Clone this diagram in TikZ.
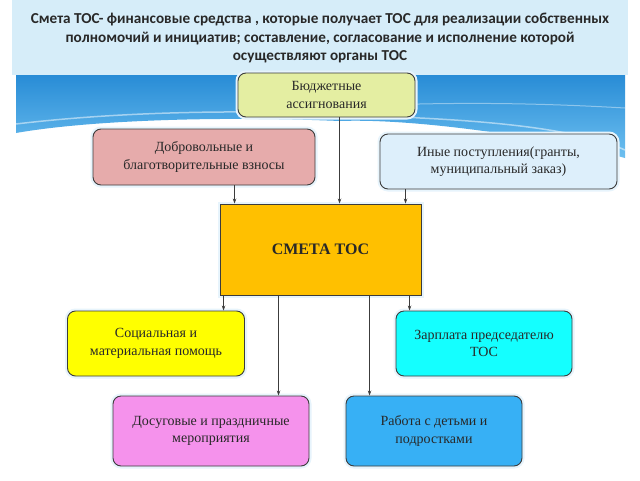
\documentclass[tikz,border=0pt]{standalone}
\usepackage{fontspec}
\setmainfont{Liberation Serif}
\newfontfamily\titlefont{Carlito}
\usepackage{tikz}
\usetikzlibrary{arrows.meta}
\usepackage{xcolor}
\definecolor{ColBanner}{RGB}{214,237,249}
\definecolor{ColWaveA}{RGB}{40,140,214}
\definecolor{ColWaveB}{RGB}{110,192,240}
\definecolor{ColLine}{RGB}{60,60,60}
\definecolor{ColText}{RGB}{40,40,40}
\definecolor{ColBudget}{RGB}{228,238,162}
\definecolor{ColVol}{RGB}{230,171,171}
\definecolor{ColOther}{RGB}{221,239,251}
\definecolor{ColSmeta}{RGB}{255,192,0}
\definecolor{ColSocial}{RGB}{255,255,0}
\definecolor{ColSalary}{RGB}{20,255,255}
\definecolor{ColLeisure}{RGB}{245,146,236}
\definecolor{ColWork}{RGB}{55,176,245}
\tikzstyle{BoxTOS}=[draw=ColLine,line width=0.9pt,rounded corners=8pt,align=center,
text=ColText,font=\fontsize{14}{17.5}\selectfont,inner sep=2pt,
preaction={draw=ColOther!70,line width=5pt}]
\tikzstyle{EdgeTOS}=[ColLine,line width=0.8pt,-{Stealth[length=5pt,width=3.5pt]}]

\begin{document}
\begin{tikzpicture}[x=1pt,y=-1pt]
        \useasboundingbox[fill=white](0,0)rectangle(640,480);
        % banner and waves
        \fill[ColBanner](12,0)rectangle(628,75);
        \shade[top color=ColWaveA,bottom color=ColWaveB](16,75)--(625,75)--(625,158)
            ..controls(560,140)and(420,118)..(340,121)
            ..controls(220,116)and(90,120)..(16,133)--cycle;
        \draw[white,opacity=.5,line width=1.5pt](16,124)..controls(150,108)and(300,110)..(420,118)
            ..controls(500,122)and(580,130)..(625,150);
        \draw[white,opacity=.4,line width=1pt](240,114)..controls(400,100)and(520,102)..(625,108);
        \node[font=\titlefont\bfseries\fontsize{15.2}{18.2}\selectfont,align=center,text=ColText](title)at(320,38)
            {Смета ТОС- финансовые средства , которые получает ТОС для реализации собственных\\
            полномочий и инициатив; составление, согласование и исполнение которой\\
            осуществляют органы ТОС};
        % boxes
        \node[BoxTOS,fill=ColBudget,minimum width=177pt,minimum height=44pt](budget)at(326.5,95)
            {Бюджетные\\ассигнования};
        \node[BoxTOS,fill=ColVol,minimum width=222pt,minimum height=56pt](vol)at(204,157)
            {Добровольные и\\благотворительные взносы};
        \node[BoxTOS,fill=ColOther,minimum width=237pt,minimum height=55pt](other)at(498.5,161.5)
            {Иные поступления(гранты,\\муниципальный заказ)};
        \node[BoxTOS,rounded corners=0pt,fill=ColSmeta,minimum width=201pt,minimum height=91pt,
            font=\bfseries\fontsize{16}{18}\selectfont](smeta)at(320.5,249.5){СМЕТА ТОС};
        \node[BoxTOS,fill=ColSocial,minimum width=177pt,minimum height=65pt](social)at(156,343.5)
            {Социальная и\\материальная помощь};
        \node[BoxTOS,fill=ColSalary,minimum width=176pt,minimum height=65pt](salary)at(484,343.5)
            {Зарплата председателю\\ТОС};
        \node[BoxTOS,fill=ColLeisure,minimum width=196pt,minimum height=70pt](leisure)at(211,431)
            {Досуговые и праздничные\\мероприятия};
        \node[BoxTOS,fill=ColWork,minimum width=176pt,minimum height=70pt](work)at(434,431)
            {Работа с детьми и\\подростками};
        % arrows into the estimate
        \draw[EdgeTOS]([xshift=15pt]smeta.north west|-vol.south)--([xshift=15pt]smeta.north west);
        \draw[EdgeTOS]([xshift=120pt]smeta.north west|-budget.south)--([xshift=120pt]smeta.north west);
        \draw[EdgeTOS]([xshift=186pt]smeta.north west|-other.south)--([xshift=186pt]smeta.north west);
        % arrows out of the estimate
        \draw[EdgeTOS]([xshift=4pt]smeta.south west)--([xshift=4pt]smeta.south west|-social.north);
        \draw[EdgeTOS]([xshift=59pt]smeta.south west)--([xshift=59pt]smeta.south west|-leisure.north);
        \draw[EdgeTOS]([xshift=150pt]smeta.south west)--([xshift=150pt]smeta.south west|-work.north);
        \draw[EdgeTOS]([xshift=190pt]smeta.south west)--([xshift=190pt]smeta.south west|-salary.north);
    \end{tikzpicture}
\end{document}
